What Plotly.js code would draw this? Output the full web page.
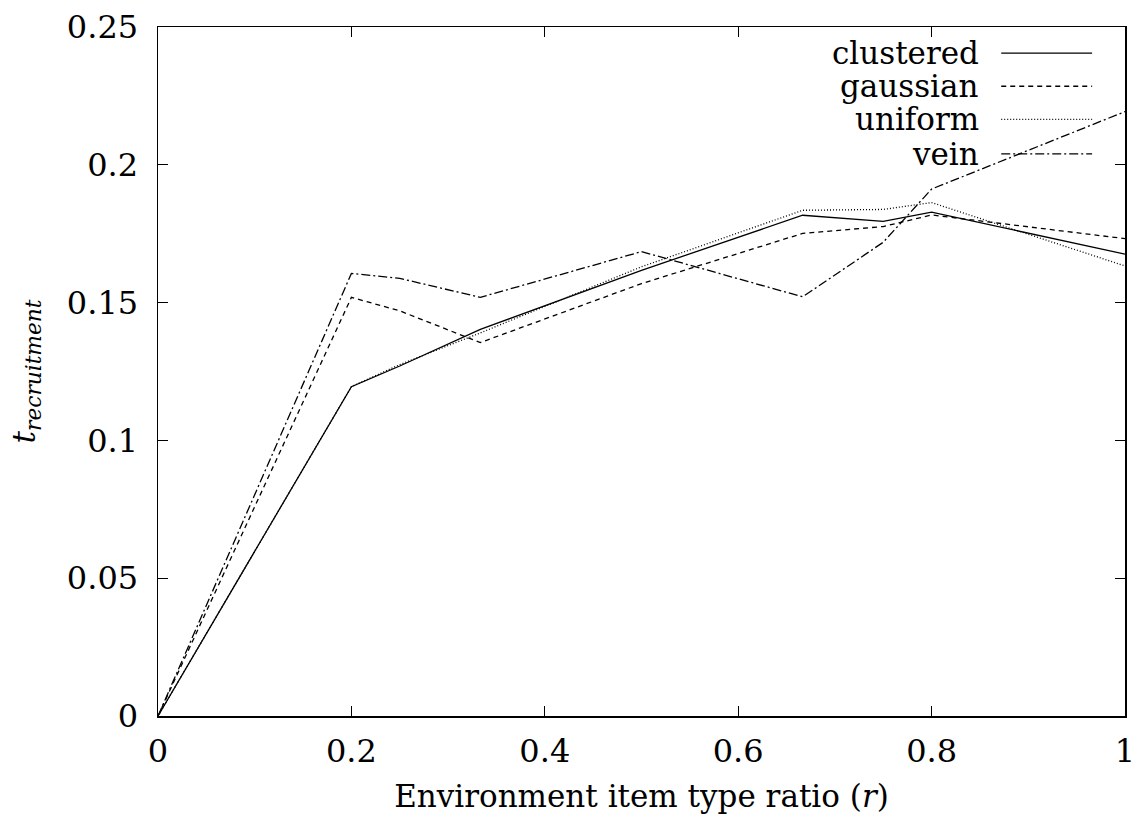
<!DOCTYPE html>
<html>
<head>
<meta charset="utf-8">
<script src="https://cdn.plot.ly/plotly-3.0.1.min.js"></script>
<style>html,body{margin:0;padding:0;background:#fff;}#chart{width:1138px;height:819px;}</style>
</head>
<body>
<div id="chart"></div>
<script>
// Environment item type ratio (r)
const ratios = [0, 0.2, 0.25, 1/3, 0.5, 2/3, 0.75, 0.8, 1];
const clustered = [0, 0.1195, 0.127, 0.1403, 0.1617, 0.1817, 0.1795, 0.1828, 0.1676];
const gaussian  = [0, 0.1519, 0.1470, 0.1355, 0.1569, 0.1751, 0.1776, 0.1818, 0.1732];
const uniform   = [0, 0.1195, 0.1275, 0.1390, 0.1630, 0.1835, 0.1838, 0.1863, 0.1633];
const vein      = [0, 0.1606, 0.1588, 0.1519, 0.1685, 0.1521, 0.1719, 0.1912, 0.2193];
const seriesNames = ['clustered', 'gaussian', 'uniform', 'vein'];
const yTicks = [0, 0.05, 0.1, 0.15, 0.2, 0.25];
const yTickText = ['0', '0.05', '0.1', '0.15', '0.2', '0.25'];
const xTicks = [0, 0.2, 0.4, 0.6, 0.8, 1];
const xTickText = ['0', '0.2', '0.4', '0.6', '0.8', '1'];

const seriesValues = [clustered, gaussian, uniform, vein];
const dashes = ['solid', '5px,4px', '1px,2px', '9px,3px,2px,3px'];
const FONT = 'DejaVu Serif';

const traces = seriesNames.map((n, i) => ({
  x: ratios, y: seriesValues[i], name: n, type: 'scatter', mode: 'lines',
  line: {color: '#000', width: 1.3, dash: dashes[i]}, showlegend: false
}));

// legend (gnuplot style: text right-aligned, sample on the right)
const legY = [0.962, 0.914, 0.866, 0.816];
const annotations = seriesNames.map((n, i) => ({
  xref: 'paper', yref: 'paper', x: 0.850, y: legY[i], xanchor: 'right', yanchor: 'middle',
  text: n, showarrow: false, borderpad: 0, font: {family: FONT, size: 31, color: '#000'}
}));
const shapes = seriesNames.map((n, i) => ({
  type: 'line', xref: 'paper', yref: 'paper', x0: 0.872, x1: 0.966, y0: legY[i], y1: legY[i],
  line: {color: '#000', width: 1.3, dash: dashes[i]}
}));

const axisCommon = {
  showgrid: false, zeroline: false, showline: true, linecolor: '#000', linewidth: 1.5,
  mirror: 'ticks', ticks: 'inside', ticklen: 10, tickcolor: '#000', tickwidth: 1,
  ticklabeloverflow: 'allow',
  tickfont: {family: FONT, size: 32, color: '#000'}
};

const layout = {
  width: 1138, height: 819,
  margin: {l: 158, r: 13, t: 27, b: 103},
  paper_bgcolor: '#fff', plot_bgcolor: '#fff',
  font: {family: FONT, color: '#000'},
  xaxis: Object.assign({}, axisCommon, {
    range: [0, 1], tickvals: xTicks, ticktext: xTickText, ticklabelstandoff: 6,
    title: {text: 'Environment item type ratio (<i>r</i>)', font: {family: FONT, size: 31, color: '#000'}, standoff: 16}
  }),
  yaxis: Object.assign({}, axisCommon, {
    range: [0, 0.25], tickvals: yTicks, ticktext: yTickText, ticklabelstandoff: 12,
    title: {text: '<i>t</i><sub><i>recruitment</i></sub>', font: {family: FONT, size: 31, color: '#000'}, standoff: 22}
  }),
  annotations: annotations,
  shapes: shapes
};

Plotly.newPlot('chart', traces, layout, {displayModeBar: false, staticPlot: true});
</script>
</body>
</html>
